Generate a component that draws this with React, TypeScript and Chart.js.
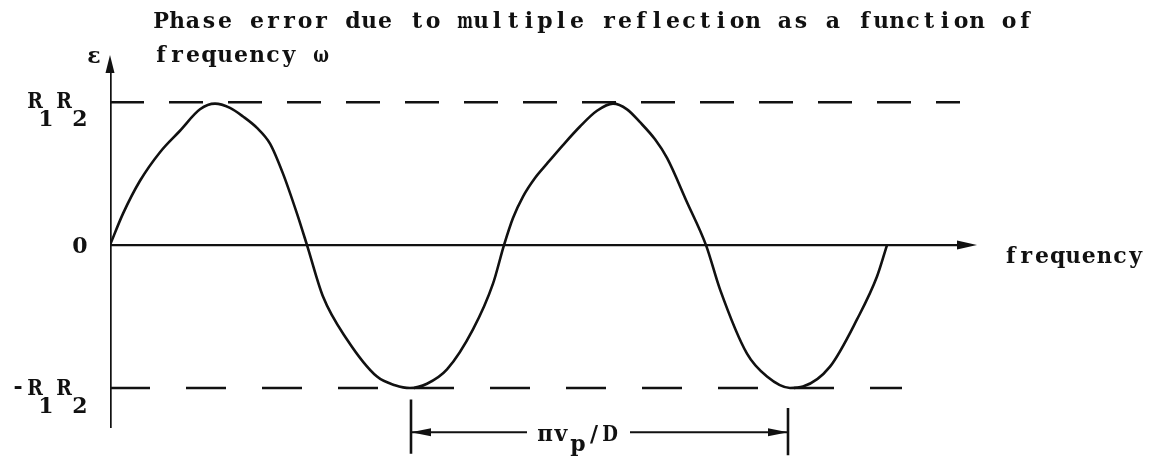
import { useEffect, useRef } from "react";
import { Chart, registerables } from "chart.js";

Chart.register(...registerables);

// Phase error ε (in units of R1R2) traced against frequency (arbitrary units)
const curveFreq = [
  0.0, 0.13, 0.3, 0.5, 0.7, 0.9, 1.05, 1.2, 1.33, 1.47, 1.6, 1.73, 1.87, 1.97, 2.13,
  2.37, 2.67, 2.85, 3.0, 3.17, 3.37, 3.63, 3.83, 3.94, 4.03, 4.13, 4.25, 4.37, 4.53,
  4.7, 4.87, 5.03, 5.17, 5.3, 5.45, 5.57, 5.77, 5.96, 6.1, 6.37, 6.57, 6.8, 6.93,
  7.2, 7.47, 7.67, 7.77,
];
const curveEps = [
  0.0, 0.22, 0.45, 0.65, 0.8, 0.95, 0.99, 0.96, 0.9, 0.82, 0.71, 0.5, 0.22, 0.0, -0.36,
  -0.66, -0.92, -0.98, -1.0, -0.97, -0.87, -0.59, -0.27, 0.0, 0.19, 0.34, 0.47, 0.57,
  0.7, 0.83, 0.94, 0.99, 0.95, 0.86, 0.74, 0.61, 0.3, 0.0, -0.31, -0.76, -0.92, -1.0,
  -0.99, -0.85, -0.52, -0.22, 0.0,
];

// bounding levels ±R1R2 and how far their dashed guides run
const envelopeLevels = [1, -1];
const envelopeEnds = [8.5, 7.92];

// axis extents
const freqAxisEnd = 8.67;
const epsAxisRange = [-1.28, 1.33];

// trough-to-trough interval marked πv_p/D
const spanEnds = [3.01, 6.78];
const spanLevel = -1.31;
const spanTextGap = [4.17, 5.2];
const spanTickRanges = [
  [-1.08, -1.46],
  [-1.14, -1.47],
];

// text
const titleLines = [
  "Phase error due to multiple reflection as a function of",
  "frequency \u03c9",
];
const xAxisLabel = "frequency";
const yAxisLabel = "\u03b5";

const INK = "#111";
const FONT = '"DejaVu Serif"';
const CELL = 16; // typewriter character pitch in px

const pts = (xs: number[], ys: number[]) => xs.map((x, i) => ({ x, y: ys[i] }));

// Draws text on a fixed pitch, squeezing wide glyphs into their cell.
function typeText(
  ctx: CanvasRenderingContext2D,
  text: string,
  x: number,
  base: number,
  size = 22,
  cell = CELL
) {
  ctx.save();
  ctx.font = `bold ${size}px ${FONT}`;
  ctx.textAlign = "center";
  ctx.textBaseline = "alphabetic";
  [...text].forEach((ch, i) => {
    if (ch === " ") return;
    const w = ctx.measureText(ch).width;
    const max = cell * 0.98;
    const sx = w > max ? max / w : 1;
    const cx = x + i * cell + cell / 2;
    ctx.save();
    ctx.translate(cx, base);
    ctx.scale(sx, 1);
    ctx.fillText(ch, 0, 0);
    ctx.restore();
  });
  ctx.restore();
}

function arrowHead(
  ctx: CanvasRenderingContext2D,
  x: number,
  y: number,
  dir: "up" | "right" | "left",
  len: number,
  half: number
) {
  ctx.beginPath();
  if (dir === "up") {
    ctx.moveTo(x, y);
    ctx.lineTo(x - half, y + len);
    ctx.lineTo(x + half, y + len);
  } else if (dir === "right") {
    ctx.moveTo(x, y);
    ctx.lineTo(x - len, y - half);
    ctx.lineTo(x - len, y + half);
  } else {
    ctx.moveTo(x, y);
    ctx.lineTo(x + len, y - half);
    ctx.lineTo(x + len, y + half);
  }
  ctx.closePath();
  ctx.fill();
}

const annotate = {
  id: "annotate",
  afterDatasetsDraw(chart: Chart) {
    const ctx = chart.ctx;
    const xs = chart.scales.x;
    const ys = chart.scales.y;
    const px = (v: number) => xs.getPixelForValue(v);
    const py = (v: number) => ys.getPixelForValue(v);
    ctx.save();
    ctx.fillStyle = INK;

    // arrow heads
    arrowHead(ctx, px(0), py(epsAxisRange[1]), "up", 18, 4.5);
    arrowHead(ctx, px(freqAxisEnd), py(0), "right", 20, 4.5);
    arrowHead(ctx, px(spanEnds[0]), py(spanLevel), "left", 20, 4);
    arrowHead(ctx, px(spanEnds[1]), py(spanLevel), "right", 20, 4);

    // title
    typeText(ctx, titleLines[0], 153, 28);
    typeText(ctx, titleLines[1], 153, 62);

    // axis names
    typeText(ctx, yAxisLabel, 86, 63);
    typeText(ctx, xAxisLabel, 1003, py(0) + 18, 22, 15.6);

    // level labels with typewriter subscripts
    const y0 = py(0);
    const yTop = py(envelopeLevels[0]);
    const yBot = py(envelopeLevels[1]);
    const r1r2 = (base: number) => {
      typeText(ctx, "R", 27, base, 22);
      typeText(ctx, "1", 38, base + 18, 22);
      typeText(ctx, "R", 56, base, 22);
      typeText(ctx, "2", 72, base + 18, 22);
    };
    r1r2(yTop + 6);
    r1r2(yBot + 7);
    typeText(ctx, "-", 12, yBot + 6, 22, 12);
    typeText(ctx, "0", 72, y0 + 8, 22);

    // interval label
    const sy = py(spanLevel) + 9;
    typeText(ctx, "\u03c0", 537, sy, 22);
    typeText(ctx, "v", 553, sy, 22);
    typeText(ctx, "p", 570, sy + 10, 22);
    typeText(ctx, "/", 586, sy, 22);
    typeText(ctx, "D", 602, sy, 22);

    ctx.restore();
  },
};

export default function App() {
  const ref = useRef<HTMLCanvasElement>(null);

  useEffect(() => {
    document.body.style.margin = "0";
    document.body.style.background = "#fff";
    const canvas = ref.current;
    if (!canvas) return;

    const line = (data: { x: number; y: number }[], width: number, dash: number[] = []) => ({
      data,
      showLine: true,
      borderColor: INK,
      borderWidth: width,
      borderDash: dash,
      pointRadius: 0,
      pointHoverRadius: 0,
      fill: false,
    });

    const chart = new Chart(canvas, {
      type: "scatter",
      data: {
        datasets: [
          // dashed guides at ±R1R2
          line(
            [
              { x: 0, y: envelopeLevels[0] },
              { x: envelopeEnds[0], y: envelopeLevels[0] },
            ],
            2.5,
            [34, 25]
          ),
          line(
            [
              { x: 0, y: envelopeLevels[1] },
              { x: envelopeEnds[1], y: envelopeLevels[1] },
            ],
            2.5,
            [40, 36]
          ),
          // axes
          line(
            [
              { x: 0, y: 0 },
              { x: freqAxisEnd - 0.1, y: 0 },
            ],
            2.4
          ),
          line(
            [
              { x: 0, y: epsAxisRange[0] },
              { x: 0, y: epsAxisRange[1] - 0.08 },
            ],
            3.4
          ),
          // interval marker
          line(
            [
              { x: spanEnds[0], y: spanTickRanges[0][0] },
              { x: spanEnds[0], y: spanTickRanges[0][1] },
            ],
            2.6
          ),
          line(
            [
              { x: spanEnds[1], y: spanTickRanges[1][0] },
              { x: spanEnds[1], y: spanTickRanges[1][1] },
            ],
            2.6
          ),
          line(
            [
              { x: spanEnds[0], y: spanLevel },
              { x: spanTextGap[0], y: spanLevel },
            ],
            2
          ),
          line(
            [
              { x: spanTextGap[1], y: spanLevel },
              { x: spanEnds[1], y: spanLevel },
            ],
            2
          ),
          // phase error curve
          {
            ...line(pts(curveFreq, curveEps), 2.6),
            cubicInterpolationMode: "monotone" as const,
          },
        ],
      },
      options: {
        animation: false,
        responsive: false,
        devicePixelRatio: 1,
        events: [],
        layout: { padding: { left: 110, right: 57, top: 45, bottom: 2.5 } },
        plugins: {
          legend: { display: false },
          title: { display: false },
          tooltip: { enabled: false },
        },
        scales: {
          x: { type: "linear", min: 0, max: 10, display: false },
          y: { type: "linear", min: -1.5, max: 1.4, display: false },
        },
      },
      plugins: [annotate],
    });

    // redraw once the serif face is ready for canvas text
    let alive = true;
    document.fonts
      .load(`bold 22px ${FONT}`, "PRabc\u03c0\u03c9\u03b5")
      .then(() => {
        if (alive) chart.draw();
      })
      .catch(() => {});

    return () => {
      alive = false;
      chart.destroy();
    };
  }, []);

  return <canvas ref={ref} width={1167} height={462} style={{ display: "block" }} />;
}
